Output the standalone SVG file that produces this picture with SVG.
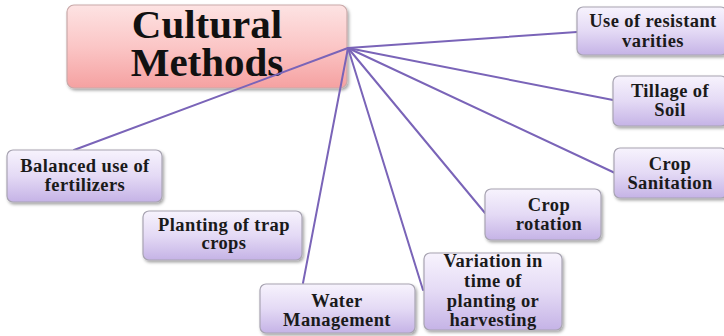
<svg xmlns="http://www.w3.org/2000/svg" width="724" height="336" viewBox="0 0 724 336">
  <defs>
    <linearGradient id="gPurple" x1="0" y1="0" x2="0" y2="1">
      <stop offset="0" stop-color="#f7f3fd"/>
      <stop offset="0.5" stop-color="#e4daf5"/>
      <stop offset="1" stop-color="#c5b3e6"/>
    </linearGradient>
    <linearGradient id="gPink" x1="0" y1="0" x2="0" y2="1">
      <stop offset="0" stop-color="#fde3e3"/>
      <stop offset="0.5" stop-color="#fbc6c6"/>
      <stop offset="1" stop-color="#f5a1a1"/>
    </linearGradient>
    <filter id="shadow" x="-10%" y="-10%" width="125%" height="130%">
      <feDropShadow dx="1.5" dy="2" stdDeviation="1.5" flood-color="#000" flood-opacity="0.35"/>
    </filter>
  </defs>
  <style>
    .box { fill: url(#gPurple); stroke: #a8a4b2; stroke-width: 1.2; filter: url(#shadow); }
    .main { fill: url(#gPink); stroke: #c9a9a9; stroke-width: 1.2; filter: url(#shadow); }
    .lbl { font-family: "Liberation Serif", "Times New Roman", serif; font-weight: bold; font-size: 18.5px; letter-spacing: 0.4px; fill: #1a1a1a; text-anchor: middle; }
    .title { font-family: "Liberation Serif", "Times New Roman", serif; font-weight: bold; font-size: 41px; fill: #111; text-anchor: middle; }
    .conn { stroke: #7a64b8; stroke-width: 2; fill: none; stroke-linecap: round; }
  </style>

  <rect width="724" height="336" fill="#ffffff"/>

  <!-- title box first so the connectors run over its right edge -->
  <g id="cultural-methods">
    <rect class="main" x="67" y="5" width="280" height="83" rx="7"/>
    <text class="title" x="207" y="38">Cultural</text>
    <text class="title" x="207" y="76">Methods</text>
  </g>

  <g id="connectors">
    <line class="conn" x1="348" y1="48" x2="577" y2="32"/>
    <line class="conn" x1="348" y1="48" x2="613" y2="100"/>
    <line class="conn" x1="348" y1="48" x2="615" y2="173"/>
    <line class="conn" x1="348" y1="48" x2="485" y2="213"/>
    <line class="conn" x1="348" y1="48" x2="423" y2="290"/>
    <line class="conn" x1="348" y1="48" x2="303" y2="283"/>
    <line class="conn" x1="348" y1="48" x2="74" y2="150"/>
  </g>

  <g id="resistant-varieties">
    <rect class="box" x="577" y="7" width="150" height="48" rx="6"/>
    <text class="lbl" x="653" y="27">Use of resistant</text>
    <text class="lbl" x="653" y="47">varities</text>
  </g>

  <g id="tillage">
    <rect class="box" x="613" y="76" width="114" height="50" rx="6"/>
    <text class="lbl" x="670" y="97">Tillage of</text>
    <text class="lbl" x="670" y="116">Soil</text>
  </g>

  <g id="crop-sanitation">
    <rect class="box" x="614" y="148" width="113" height="50" rx="6"/>
    <text class="lbl" x="670" y="170">Crop</text>
    <text class="lbl" x="670" y="189">Sanitation</text>
  </g>

  <g id="balanced-fertilizers">
    <rect class="box" x="7" y="150" width="155" height="52" rx="6"/>
    <text class="lbl" x="85" y="172">Balanced use of</text>
    <text class="lbl" x="85" y="191">fertilizers</text>
  </g>

  <g id="trap-crops">
    <rect class="box" x="143" y="211" width="159" height="49" rx="6"/>
    <text class="lbl" x="224" y="231">Planting of trap</text>
    <text class="lbl" x="224" y="249">crops</text>
  </g>

  <g id="crop-rotation">
    <rect class="box" x="485" y="189" width="116" height="51" rx="6"/>
    <text class="lbl" x="549" y="211">Crop</text>
    <text class="lbl" x="549" y="230">rotation</text>
  </g>

  <g id="water-management">
    <rect class="box" x="260" y="284" width="155" height="49" rx="6"/>
    <text class="lbl" x="337" y="307">Water</text>
    <text class="lbl" x="337" y="326">Management</text>
  </g>

  <g id="planting-time">
    <rect class="box" x="424" y="253" width="138" height="77" rx="6"/>
    <text class="lbl" x="493" y="267">Variation in</text>
    <text class="lbl" x="493" y="287">time of</text>
    <text class="lbl" x="493" y="307">planting or</text>
    <text class="lbl" x="493" y="326">harvesting</text>
  </g>
</svg>
